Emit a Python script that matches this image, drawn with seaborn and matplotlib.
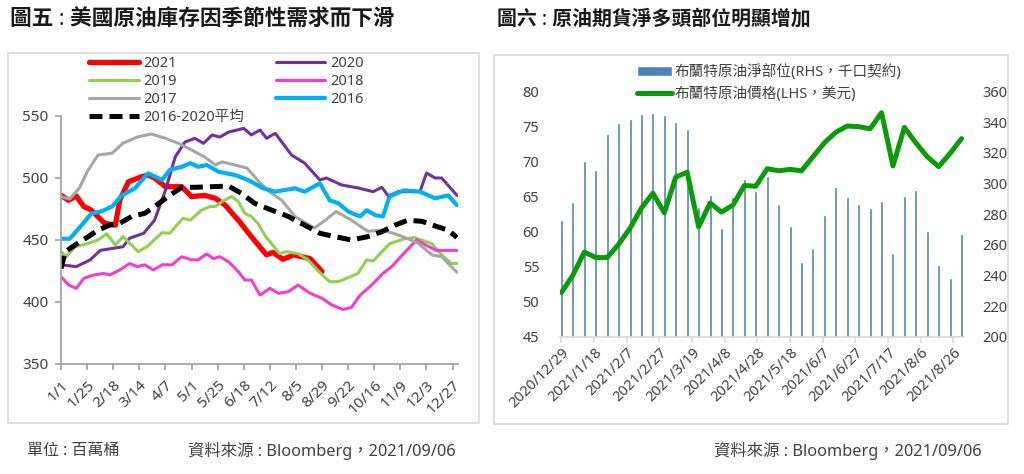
import matplotlib
matplotlib.use("Agg")
import matplotlib.pyplot as plt
from matplotlib.patches import Rectangle
import seaborn as sns

# =========================
# Datos - Figura 5 (inventario EE.UU., días desde 1/1)
# =========================
d2021 = [0, 7, 14, 21, 28, 40, 50, 54, 62, 74, 80, 86, 96, 111, 120, 132, 142, 151, 163, 175, 189, 195, 204, 214, 229, 240]
v2021 = [486, 482, 485.5, 477, 474, 463.5, 462, 482, 497, 501, 502.4, 500, 493, 493, 485, 486, 483.6, 478, 466, 452.7,
         438, 440, 434.4, 438, 435, 424.5]

d2020 = [0, 14, 27, 36, 48, 57, 63, 76, 86, 96, 105, 114, 123, 131, 139, 146, 154, 168, 175, 183, 189, 197, 212, 224,
         238, 244, 258, 273, 287, 295, 301, 310, 330, 336, 344, 350, 364]
v2020 = [430, 428.5, 434, 441.6, 443.3, 444.6, 451.4, 455.4, 466, 490, 517, 529, 532, 528, 534.7, 533, 537, 540, 534.7,
         538.7, 532, 536, 518.5, 512, 498.4, 500, 494.4, 492, 489, 492.5, 485.5, 489, 489, 504, 500, 500, 486]

d2019 = [0, 5, 13, 24, 34, 42, 50, 57, 71, 79, 93, 100, 112, 119, 129, 137, 142, 148, 157, 163, 169, 175, 181, 188,
         201, 207, 218, 227, 237, 247, 255, 273, 281, 287, 302, 316, 325, 341, 350, 359, 364]
v2019 = [440.6, 436.6, 444.6, 447, 450, 455, 446, 452.7, 440.6, 444.6, 456, 455.4, 467.5, 466, 474, 477, 477, 481, 485,
         481, 471.5, 469, 463.5, 453, 439, 440.6, 439, 434, 424.5, 416.4, 416.4, 423, 434, 433, 447, 451, 452, 447,
         438, 431, 431]

d2018 = [0, 7, 14, 21, 30, 39, 45, 54, 63, 70, 77, 85, 93, 102, 111, 120, 126, 134, 140, 146, 154, 163, 169, 175, 183,
         192, 200, 209, 218, 229, 240, 249, 259, 267, 275, 284, 296, 304, 315, 327, 335, 345, 364]
v2018 = [420.4, 413.7, 411, 419, 421.8, 423, 421.8, 425.8, 431, 428.5, 430, 425.8, 430, 430, 436.5, 434, 434, 438.7,
         435, 436.5, 432.5, 424.5, 417.7, 417.7, 405.6, 411, 407, 408.3, 413.7, 407, 403, 397.6, 394, 395.6, 405.6,
         412.3, 423, 428.5, 439, 450, 446, 441.6, 441.6]

d2017 = [0, 8, 17, 24, 34, 47, 57, 70, 83, 96, 108, 120, 132, 142, 148, 160, 171, 181, 190, 203, 215, 233, 243, 253,
         267, 282, 295, 307, 319, 328, 341, 350, 364]
v2017 = [485, 483, 492, 505, 518.5, 520, 528, 533, 535.5, 532, 528, 522.6, 517, 510.5, 513, 510.5, 508, 498, 490, 482,
         469, 459.6, 466, 473, 466, 457, 458, 455, 451, 447.6, 438, 436.5, 424]

d2016 = [0, 8, 19, 28, 37, 47, 56, 68, 80, 93, 100, 111, 119, 126, 134, 145, 160, 172, 186, 197, 215, 224, 238, 247,
         255, 264, 275, 281, 289, 296, 302, 315, 330, 344, 356, 364]
v2016 = [451, 451, 462, 471.5, 473, 477, 486, 491.7, 503.8, 498.4, 506.5, 509, 512, 509, 510.5, 505, 502.4, 498.4,
         491.7, 489, 491.7, 489, 495.7, 482, 479.6, 473, 469, 474, 470, 469, 485, 490, 489, 483.6, 486, 478]

d_avg = [0, 4, 13, 25, 34, 45, 54, 65, 77, 86, 100, 111, 123, 139, 154, 166, 178, 194, 209, 224, 238, 252, 267, 282,
         295, 307, 319, 332, 345, 356, 364]
v_avg = [427, 440.6, 446, 452.7, 458, 462, 463.5, 469, 471.5, 477, 486, 492.5, 492.5, 493, 493.5, 487.6, 479.6, 474,
         469, 462, 455.4, 452.7, 450, 452.7, 456.7, 462, 466, 465, 461, 458, 452]

ticks_izq = ["1/1", "1/25", "2/18", "3/14", "4/7", "5/1", "5/25", "6/18", "7/12", "8/5", "8/29", "9/22",
             "10/16", "11/9", "12/3", "12/27"]

# =========================
# Datos - Figura 6 (Brent, semanal desde 2020/12/29)
# =========================
dias_semana = [0, 7, 14, 21, 28, 35, 42, 49, 56, 63, 70, 77, 84, 91, 98, 105, 112, 119, 126, 133, 140, 147, 154, 161,
               168, 175, 182, 189, 196, 203, 210, 217, 224, 231, 238, 245]
net_pos = [276.3, 288, 314.6, 309.1, 332.3, 339.4, 342.3, 345.2, 346, 344.7, 340.5, 335.5, 284.9, 292.4, 270.8, 291.4,
           303.3, 295, 305, 286.4, 272.3, 248.7, 258.2, 279.4, 297.9, 291.4, 286.4, 283.8, 288.8, 254.7, 291.6, 295.5,
           269, 246.5, 238.2, 266.9]
brent = [51.3, 53.8, 57.1, 56.3, 56.3, 58.2, 60.5, 63.4, 65.5, 62.7, 67.8, 68.5, 60.7, 64.1, 62.8, 63.8, 66.6, 66.5,
         69, 68.7, 68.9, 68.7, 70.7, 72.7, 74.2, 75.1, 75, 74.7, 77, 69.4, 74.9, 72.7, 70.7, 69.3, 71.2, 73.3]

ticks_der = ["2020/12/29", "2021/1/18", "2021/2/7", "2021/2/27", "2021/3/19", "2021/4/8", "2021/4/28",
             "2021/5/18", "2021/6/7", "2021/6/27", "2021/7/17", "2021/8/6", "2021/8/26"]

# =========================
# Estilo
# =========================
sns.set_style("white")
plt.rcParams["font.family"] = ["Noto Sans", "Noto Sans CJK TC", "DejaVu Sans"]
TXT = "#404040"
W, H = 1024, 474

fig = plt.figure(figsize=(W / 100, H / 100), dpi=100)


def caja(x0, y0, x1, y1):
    fig.add_artist(Rectangle((x0 / W, 1 - y1 / H), (x1 - x0) / W, (y1 - y0) / H, transform=fig.transFigure,
                             fill=False, edgecolor="#D9D9D9", lw=1.2))


caja(8, 53, 479, 423)
caja(494, 55, 1008, 424)

fig.text(10 / W, 1 - 20 / H, "圖五 : 美國原油庫存因季節性需求而下滑", fontsize=15.6, fontweight="bold",
         va="center", ha="left", color="#1a1a1a")
fig.text(497 / W, 1 - 20 / H, "圖六 : 原油期貨淨多頭部位明顯增加", fontsize=14.3, fontweight="bold",
         va="center", ha="left", color="#1a1a1a")
fig.text(27 / W, 1 - 451 / H, "單位 : 百萬桶", fontsize=11.5, va="center", ha="left", color=TXT)
fig.text(456 / W, 1 - 451 / H, "資料來源 : Bloomberg，2021/09/06", fontsize=11.8, va="center", ha="right", color=TXT)
fig.text(982 / W, 1 - 451 / H, "資料來源 : Bloomberg，2021/09/06", fontsize=11.8, va="center", ha="right", color=TXT)

# =========================
# Figura 5
# =========================
ax1 = fig.add_axes([61 / W, 1 - 364 / H, 397 / W, 248 / H])
series = [
    (d2021, v2021, "2021", "#FF0000", 3.8),
    (d2020, v2020, "2020", "#7030A0", 2.2),
    (d2019, v2019, "2019", "#92D050", 2.2),
    (d2018, v2018, "2018", "#F03FD0", 2.2),
    (d2017, v2017, "2017", "#A6A6A6", 2.2),
    (d2016, v2016, "2016", "#00B0F0", 3.0),
]
for d, v, lab, col, lw in series:
    sns.lineplot(x=d, y=v, ax=ax1, color=col, linewidth=lw, label=lab, legend=False)
sns.lineplot(x=d_avg, y=v_avg, ax=ax1, color="black", linewidth=3.6, label="2016-2020平均", legend=False)
ax1.lines[-1].set_linestyle((0, (2.6, 1.4)))

ax1.set_xlim(0, 365)
ax1.set_ylim(350, 550)
ax1.set_yticks([350, 400, 450, 500, 550])
ax1.set_xticks([24 * i for i in range(len(ticks_izq))])
ax1.set_xticklabels(ticks_izq, rotation=45, ha="right", rotation_mode="anchor")
ax1.set_xlabel("")
ax1.set_ylabel("")
for s in ["top", "right"]:
    ax1.spines[s].set_visible(False)
for s in ["left", "bottom"]:
    ax1.spines[s].set_color("#A6A6A6")
    ax1.spines[s].set_linewidth(1.3)
ax1.tick_params(axis="both", which="major", direction="out", length=4, width=1.3, color="#A6A6A6",
                labelsize=11, labelcolor=TXT, left=True, bottom=True)
ax1.tick_params(axis="y", pad=5)
ax1.tick_params(axis="x", pad=6)

h, l = ax1.get_legend_handles_labels()
orden = ["2021", "2019", "2017", "2016-2020平均", "2020", "2018", "2016"]
hd = dict(zip(l, h))
leg1 = ax1.legend([hd[k] for k in orden], orden, ncol=2, loc="upper left",
                  bbox_to_anchor=(89 / W, 1 - 56 / H), bbox_transform=fig.transFigure, frameon=False,
                  fontsize=10.5, handlelength=3.4, handletextpad=0.3, columnspacing=2.2, labelspacing=0.2,
                  borderpad=0, borderaxespad=0)
for t in leg1.get_texts():
    t.set_color(TXT)

# =========================
# Figura 6
# =========================
axb = fig.add_axes([560 / W, 1 - 336.7 / H, 404 / W, 245 / H])
sns.barplot(x=dias_semana, y=net_pos, ax=axb, native_scale=True, color="#4F81BD", saturation=1,
            width=0.26, errorbar=None, label="布蘭特原油淨部位(RHS，千口契約)")
if axb.get_legend() is not None:
    axb.get_legend().remove()
axb.set_ylim(200, 360)
axb.set_yticks(range(200, 361, 20))
axb.set_xlim(-0.9, 246.5)
axb.set_xticks([20 * i for i in range(len(ticks_der))])
axb.set_xticklabels(ticks_der, rotation=45, ha="right", rotation_mode="anchor")
axb.set_xlabel("")
axb.set_ylabel("")

axl = axb.twinx()
sns.lineplot(x=dias_semana, y=brent, ax=axl, color="#0A9A0A", linewidth=3.6,
             label="布蘭特原油價格(LHS，美元)", legend=False)
axl.set_ylim(45, 80)
axl.set_yticks(range(45, 81, 5))
axl.set_xlim(-0.9, 246.5)
axl.set_ylabel("")
# barras a la derecha, precio a la izquierda
axb.yaxis.tick_right()
axl.yaxis.tick_left()

for a in (axb, axl):
    for s in a.spines.values():
        s.set_visible(False)
    a.grid(False)
axb.spines["bottom"].set_visible(True)
axb.spines["bottom"].set_color("#D9D9D9")
axb.spines["bottom"].set_linewidth(1.2)
axb.tick_params(axis="x", direction="out", length=4, width=1.2, color="#D9D9D9", labelsize=10.5,
                labelcolor=TXT, pad=2, bottom=True)
axb.tick_params(axis="y", length=0, labelsize=10.5, labelcolor=TXT, pad=13)
axl.tick_params(axis="y", length=0, labelsize=10.5, labelcolor=TXT, pad=15)

hb, lb = axb.get_legend_handles_labels()
hl, ll = axl.get_legend_handles_labels()
leg2 = axl.legend(hb + hl, lb + ll, loc="upper left", bbox_to_anchor=(637 / W, 1 - 64 / H),
                  bbox_transform=fig.transFigure, frameon=False, fontsize=10.5, handlelength=2.4,
                  handletextpad=0.15, labelspacing=0.45, borderpad=0, borderaxespad=0)
for t in leg2.get_texts():
    t.set_color(TXT)

fig.savefig("out.png", dpi=100)
